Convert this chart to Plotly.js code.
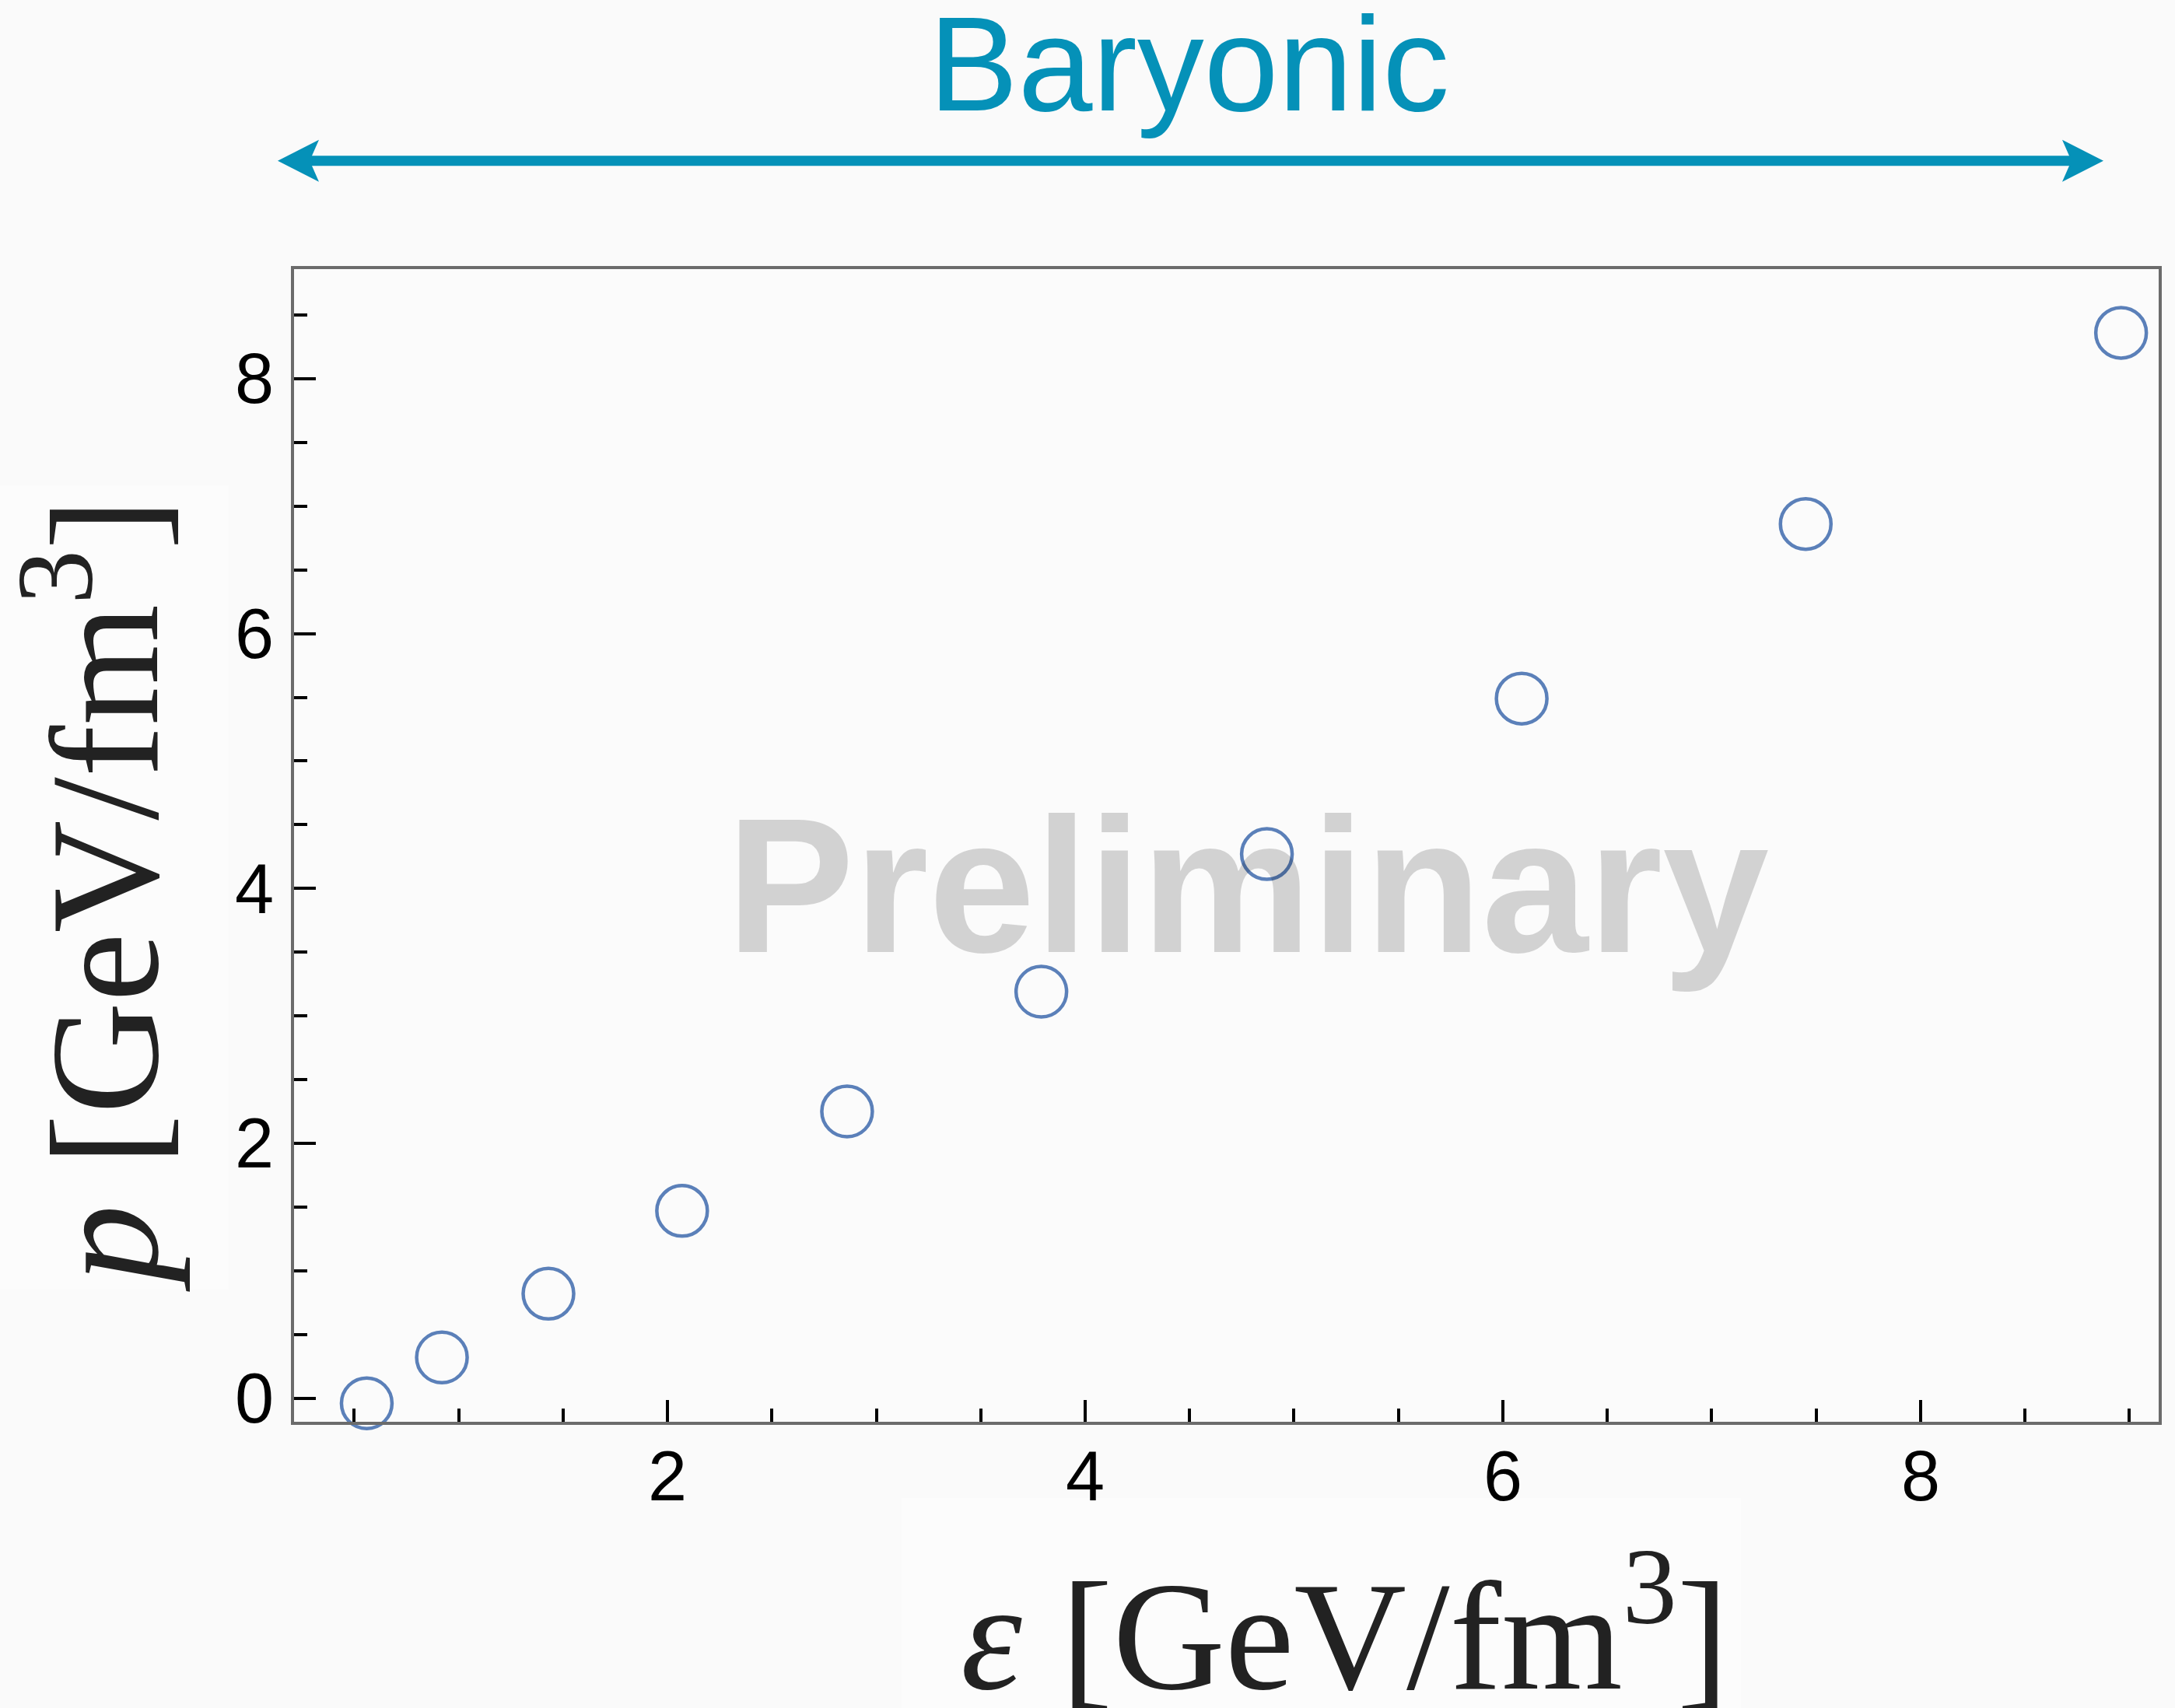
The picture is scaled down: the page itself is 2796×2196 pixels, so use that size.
<!DOCTYPE html>
<html>
<head>
<meta charset="utf-8">
<script src="https://cdn.plot.ly/plotly-3.0.1.min.js"></script>
<style>
  html, body { margin: 0; padding: 0; background: #fafafa; }
  #chart { width: 2796px; height: 2196px; }
</style>
</head>
<body>
<div id="chart"></div>
<script>
// Energy density and pressure of the baryonic equation of state
const energyDensity = [0.56, 0.92, 1.43, 2.07, 2.86, 3.79, 4.87, 6.09, 7.45, 8.96];
const pressure      = [-0.04, 0.32, 0.82, 1.47, 2.25, 3.19, 4.27, 5.49, 6.86, 8.36];

const xTickVals = [2, 4, 6, 8];
const xTickText = ['2', '4', '6', '8'];
const yTickVals = [0, 2, 4, 6, 8];
const yTickText = ['0', '2', '4', '6', '8'];

const xTitle = '<i>ε</i> [GeV/fm<sup>3</sup>]';
const yTitle = '<i>p</i> [GeV/fm<sup>3</sup>]';
const bandLabel = 'Baryonic';
const watermark = 'Preliminary';

// page geometry (pixels) and helpers to convert into paper coordinates
const W = 2796, H = 2196;
const M = { l: 378, r: 21, t: 346, b: 368 };
const PW = W - M.l - M.r, PH = H - M.t - M.b;
const px = v => (v - M.l) / PW;
const py = v => (H - M.b - v) / PH;

const teal = '#0591b8';
const frame = '#6b6b6b';

// double-headed arrow above the plot
const arrowY = 206.7, tipL = 357, tipR = 2704, headLen = 53, headHalf = 27, notch = 44, shaft = 6.5;
function head(tip, dir) {
  const pts = [
    [tip, arrowY],
    [tip + dir * headLen, arrowY - headHalf],
    [tip + dir * notch, arrowY - shaft],
    [tip + dir * notch, arrowY + shaft],
    [tip + dir * headLen, arrowY + headHalf]
  ];
  return 'M' + pts.map(p => px(p[0]).toFixed(5) + ',' + py(p[1]).toFixed(5)).join(' L') + ' Z';
}

const shapes = [
  // faint panels behind the axis titles
  { type: 'rect', xref: 'paper', yref: 'paper', layer: 'below',
    x0: px(0), x1: px(294), y0: py(1658), y1: py(624),
    fillcolor: '#fcfcfc', line: { width: 0 } },
  { type: 'rect', xref: 'paper', yref: 'paper', layer: 'below',
    x0: px(1159), x1: px(2238), y0: py(2196), y1: py(1926),
    fillcolor: '#fcfcfc', line: { width: 0 } },
  // arrow shaft
  { type: 'line', xref: 'paper', yref: 'paper',
    x0: px(tipL + notch - 2), x1: px(tipR - notch + 2), y0: py(arrowY), y1: py(arrowY),
    line: { color: teal, width: 13 } },
  // arrow heads
  { type: 'path', xref: 'paper', yref: 'paper', path: head(tipL, 1),
    fillcolor: teal, line: { width: 0 } },
  { type: 'path', xref: 'paper', yref: 'paper', path: head(tipR, -1),
    fillcolor: teal, line: { width: 0 } }
];

const annotations = [
  { text: bandLabel, xref: 'paper', yref: 'paper', x: px(1528), y: py(82),
    xanchor: 'center', yanchor: 'middle', showarrow: false,
    font: { family: 'Liberation Sans, Arial, sans-serif', size: 172, color: teal } },
  { text: watermark, xref: 'paper', yref: 'paper', x: px(1604), y: py(1138),
    xanchor: 'center', yanchor: 'middle', showarrow: false,
    font: { family: 'Liberation Sans, Arial, sans-serif', size: 246, color: 'rgba(0,0,0,0.16)', weight: 'bold' } },
  { text: xTitle, xref: 'paper', yref: 'paper', x: px(1728), y: py(2088),
    xanchor: 'center', yanchor: 'middle', showarrow: false,
    font: { family: 'Liberation Serif, Times New Roman, serif', size: 200, color: '#222222' } },
  { text: yTitle, xref: 'paper', yref: 'paper', x: px(119), y: py(1151),
    xanchor: 'center', yanchor: 'middle', showarrow: false, textangle: -90,
    font: { family: 'Liberation Serif, Times New Roman, serif', size: 200, color: '#222222' } }
];

const trace = {
  x: energyDensity,
  y: pressure,
  type: 'scatter',
  mode: 'markers',
  marker: { symbol: 'circle-open', size: 65, color: '#5b80b9', line: { width: 4.5, color: '#5b80b9' } },
  cliponaxis: false,
  hoverinfo: 'x+y'
};

const axisCommon = {
  showline: true, linecolor: frame, linewidth: 4, mirror: true,
  showgrid: false, zeroline: false,
  ticks: 'inside', ticklen: 28, tickwidth: 4, tickcolor: '#000000',
  tickfont: { family: 'Liberation Sans, Arial, sans-serif', size: 90, color: '#000000' },
  minor: { dtick: 0.5, ticks: 'inside', ticklen: 17, tickwidth: 4, tickcolor: '#000000' }
};

const layout = {
  width: W, height: H,
  margin: M,
  paper_bgcolor: '#fafafa',
  plot_bgcolor: '#fbfbfb',
  showlegend: false,
  xaxis: Object.assign({}, axisCommon, {
    range: [0.212, 9.14], tickmode: 'array', tickvals: xTickVals, ticktext: xTickText,
    ticklabelstandoff: -11
  }),
  yaxis: Object.assign({}, axisCommon, {
    range: [-0.185, 8.86], tickmode: 'array', tickvals: yTickVals, ticktext: yTickText,
    ticklabelstandoff: 4
  }),
  shapes: shapes,
  annotations: annotations
};

Plotly.newPlot('chart', [trace], layout, { displayModeBar: false, staticPlot: true });
</script>
</body>
</html>
